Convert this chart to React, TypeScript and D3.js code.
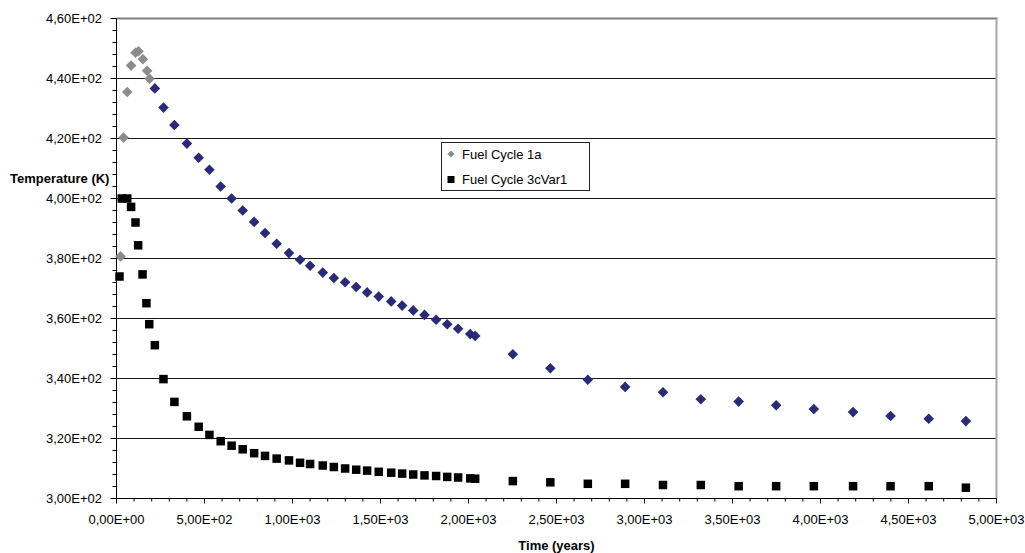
import React from "react";
import * as d3 from "d3";

// Early phase (first ~200 years)
const fc1aYears = [23, 40, 61, 83, 108, 125, 150, 174, 188];
const fc1aTemp = [380.7, 420.3, 435.5, 444.3, 448.6, 449.1, 446.4, 442.6, 439.9];

const fc3cYearsEarly = [17, 30, 61, 83, 108, 123, 148, 170, 186];
const fc3cTempEarly = [374.0, 400.0, 400.0, 397.2, 392.0, 384.4, 374.7, 365.1, 358.1];

// Long-term phase, shared time grid
const longYears = [
  218, 267, 329, 400, 467, 528, 592, 654, 717, 782, 844, 910, 980, 1043, 1100,
  1172, 1235, 1299, 1362, 1424, 1490, 1561, 1623, 1686, 1750, 1816, 1879, 1941,
  2010, 2038, 2252, 2465, 2678, 2890, 3105, 3320, 3535, 3748, 3962, 4185, 4398,
  4615, 4826,
];
const fc1aTempLong = [
  436.7, 430.3, 424.5, 418.3, 413.6, 409.6, 404.0, 400.0, 396.0, 392.2, 388.5,
  384.9, 381.8, 379.6, 377.6, 375.3, 373.5, 372.1, 370.5, 368.7, 367.3, 365.7,
  364.3, 362.7, 361.2, 359.6, 358.1, 356.6, 354.8, 354.2, 348.1, 343.4, 339.6,
  337.2, 335.4, 333.1, 332.3, 331.1, 329.8, 328.8, 327.5, 326.6, 325.8,
];
const fc3cTempLong = [
  351.1, 339.8, 332.2, 327.4, 323.9, 321.2, 319.1, 317.6, 316.4, 315.1, 314.2,
  313.3, 312.7, 311.9, 311.5, 311.0, 310.5, 310.0, 309.6, 309.3, 308.9, 308.6,
  308.3, 308.0, 307.7, 307.5, 307.2, 307.0, 306.7, 306.6, 305.8, 305.4, 304.9,
  304.9, 304.5, 304.5, 304.1, 304.1, 304.1, 304.1, 304.1, 304.1, 303.6,
];

const legendLabels = ["Fuel Cycle 1a", "Fuel Cycle 3cVar1"];
const yTicks = [300, 320, 340, 360, 380, 400, 420, 440, 460];
const xTicks = [0, 500, 1000, 1500, 2000, 2500, 3000, 3500, 4000, 4500, 5000];

const FONT = "'Liberation Sans', Arial, Helvetica, sans-serif";
const GRAY = "#8c8c8c";
const NAVY = "#2a2a78";

function sci(v: number): string {
  const [m, e] = v.toExponential(2).split("e");
  const ex = parseInt(e, 10);
  return (
    m.replace(".", ",") +
    "E" +
    (ex < 0 ? "-" : "+") +
    String(Math.abs(ex)).padStart(2, "0")
  );
}

function diamond(r: number) {
  return `M0,${-r}L${r},0L0,${r}L${-r},0Z`;
}

export default function App() {
  const x = d3.scaleLinear().domain([0, 5000]).range([116.5, 996.5]);
  const y = d3.scaleLinear().domain([300, 460]).range([498.5, 18.5]);

  const yMinor = d3.range(300, 460.001, 4);
  const xMinor = d3.range(0, 5000.001, 100);

  const grayPts = fc1aYears.map((t, i) => [t, fc1aTemp[i]]);
  const navyPts = longYears.map((t, i) => [t, fc1aTempLong[i]]);
  const sqPts = [
    ...fc3cYearsEarly.map((t, i) => [t, fc3cTempEarly[i]]),
    ...longYears.map((t, i) => [t, fc3cTempLong[i]]),
  ];

  const sq = 8.5;
  const [x0, x1] = x.range();

  return (
    <svg
      width={1025}
      height={553}
      style={{ position: "absolute", left: 0, top: 0, background: "#fff" }}
      fontFamily={FONT}
    >
      {/* horizontal gridlines */}
      {yTicks
        .filter((v) => v > 300 && v < 460)
        .map((v) => (
          <line
            key={`g${v}`}
            x1={x0}
            x2={x1}
            y1={y(v)}
            y2={y(v)}
            stroke="#1a1a1a"
            strokeWidth={1}
          />
        ))}
      {/* plot frame: top and right edges */}
      <line x1={x0} x2={x1 + 1} y1={y(460)} y2={y(460)} stroke="#808080" strokeWidth={2} />
      <line x1={x1} x2={x1} y1={y(460)} y2={y(300)} stroke="#a8a8a8" strokeWidth={2} />

      {/* y axis */}
      <line x1={x0} x2={x0} y1={y(460)} y2={y(300)} stroke="#000" strokeWidth={1} />
      {yMinor.map((v) => (
        <line key={`ym${v}`} x1={x0 - 4} x2={x0} y1={y(v)} y2={y(v)} stroke="#000" />
      ))}
      {yTicks.map((v) => (
        <g key={`yt${v}`}>
          <line x1={x0 - 6} x2={x0} y1={y(v)} y2={y(v)} stroke="#000" />
          <text
            x={102}
            y={y(v)}
            dy="0.35em"
            textAnchor="end"
            fontSize={13}
            fill="#000"
          >
            {sci(v)}
          </text>
        </g>
      ))}

      {/* x axis */}
      <line x1={x0} x2={x1} y1={y(300)} y2={y(300)} stroke="#000" strokeWidth={1} />
      {xMinor.map((v) => (
        <line key={`xm${v}`} x1={x(v)} x2={x(v)} y1={y(300)} y2={y(300) + 3} stroke="#000" />
      ))}
      {xTicks.map((v) => (
        <g key={`xt${v}`}>
          <line x1={x(v)} x2={x(v)} y1={y(300)} y2={y(300) + 5} stroke="#000" />
          <text x={x(v)} y={523.5} textAnchor="middle" fontSize={13} fill="#000">
            {sci(v)}
          </text>
        </g>
      ))}

      {/* axis titles */}
      <text x={10} y={183} fontSize={13} fontWeight="bold" fill="#000">
        Temperature (K)
      </text>
      <text
        x={(x0 + x1) / 2}
        y={549.5}
        textAnchor="middle"
        fontSize={13}
        fontWeight="bold"
        fill="#000"
      >
        Time (years)
      </text>

      {/* Fuel Cycle 3cVar1 */}
      {sqPts.map(([t, v], i) => (
        <rect
          key={`s${i}`}
          x={x(t) - sq / 2}
          y={y(v) - sq / 2}
          width={sq}
          height={sq}
          fill="#000"
        />
      ))}
      {/* Fuel Cycle 1a, long-term */}
      {navyPts.map(([t, v], i) => (
        <path
          key={`n${i}`}
          d={diamond(5.3)}
          transform={`translate(${x(t)},${y(v)})`}
          fill={NAVY}
        />
      ))}
      {/* Fuel Cycle 1a, early peak */}
      {grayPts.map(([t, v], i) => (
        <path
          key={`d${i}`}
          d={diamond(5.3)}
          transform={`translate(${x(t)},${y(v)})`}
          fill={GRAY}
        />
      ))}

      {/* legend */}
      <g>
        <rect x={441.5} y={142.5} width={148} height={48} fill="#fff" stroke="#222" strokeWidth={1} />
        <path d={diamond(3.6)} transform="translate(451,154)" fill={GRAY} />
        <text x={462} y={158.5} fontSize={13} fill="#000">
          {legendLabels[0]}
        </text>
        <rect x={447.5} y={176} width={7} height={7} fill="#000" />
        <text x={462} y={184} fontSize={13} fill="#000">
          {legendLabels[1]}
        </text>
      </g>
    </svg>
  );
}
